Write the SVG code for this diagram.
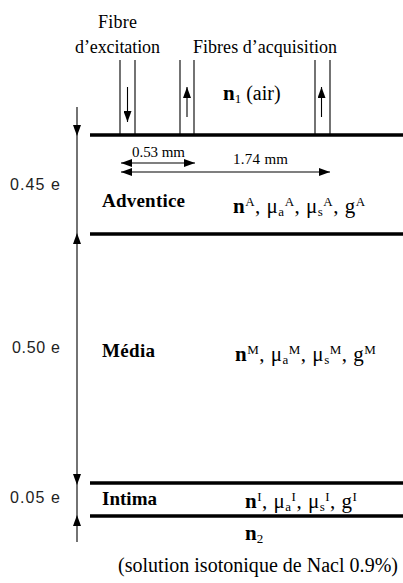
<svg xmlns="http://www.w3.org/2000/svg" width="403" height="583" viewBox="0 0 403 583">
<style>
.serif{font-family:"Liberation Serif","Times New Roman",serif;fill:#000}
.sans{font-family:"Liberation Sans",Arial,sans-serif;fill:#222;font-size:16px}
.thick{stroke:#000;stroke-width:3.3;fill:none}
.thin{stroke:#000;stroke-width:1.1;fill:none}
.title{font-size:18px}
.layer{font-size:19px;font-weight:bold}
.par{font-size:21px;letter-spacing:0.5px}
.nb{font-weight:bold;font-size:21px}
.sup{font-size:13px}
.dim{font-size:15px}
</style>
<defs>
<marker id="ah" viewBox="0 0 11 8" refX="11" refY="4" markerWidth="11" markerHeight="8" markerUnits="userSpaceOnUse" orient="auto-start-reverse">
<path d="M0,0 L11,4 L0,8 z" fill="#000"/>
</marker>
</defs>
<rect width="403" height="583" fill="#fff"/>

<g id="layers">
<line class="thick" x1="90" y1="135" x2="403" y2="135"/>
<line class="thick" x1="90" y1="234" x2="403" y2="234"/>
<line class="thick" x1="90" y1="483" x2="403" y2="483"/>
<line class="thick" x1="90" y1="516" x2="403" y2="516"/>
</g>

<g id="fibre-excitation">
<line class="thin" x1="120" y1="60" x2="120" y2="135"/>
<line class="thin" x1="135" y1="60" x2="135" y2="135"/>
<text class="serif title" x="98" y="28" textLength="39" lengthAdjust="spacing">Fibre</text>
<text class="serif title" x="75" y="53" textLength="85" lengthAdjust="spacing">d’excitation</text>
</g>

<g id="fibres-acquisition">
<line class="thin" x1="180" y1="60" x2="180" y2="135"/>
<line class="thin" x1="194" y1="60" x2="194" y2="135"/>
<line class="thin" x1="315" y1="60" x2="315" y2="135"/>
<line class="thin" x1="330" y1="60" x2="330" y2="135"/>
<text class="serif title" x="193" y="53" textLength="144" lengthAdjust="spacing">Fibres d’acquisition</text>
</g>

<g id="air">
<text class="serif" x="223" y="100" font-size="20"><tspan class="nb">n</tspan><tspan class="sup" dy="3">1</tspan><tspan dy="-3"> (air)</tspan></text>
</g>

<g id="adventice">
<text class="serif layer" x="102" y="207" textLength="83" lengthAdjust="spacing">Adventice</text>
<text class="serif par" x="233" y="213"><tspan class="nb">n</tspan><tspan class="sup" dy="-7">A</tspan><tspan dy="7">, μ</tspan><tspan class="sup" dy="3">a</tspan><tspan class="sup" dy="-10">A</tspan><tspan dy="7">, μ</tspan><tspan class="sup" dy="3">s</tspan><tspan class="sup" dy="-10">A</tspan><tspan dy="7">, g</tspan><tspan class="sup" dy="-7">A</tspan></text>
<text class="sans" x="10" y="190" textLength="50" lengthAdjust="spacing">0.45 e</text>
</g>

<g id="media">
<text class="serif layer" x="102" y="357" textLength="53" lengthAdjust="spacing">Média</text>
<text class="serif par" x="235" y="361"><tspan class="nb">n</tspan><tspan class="sup" dy="-7">M</tspan><tspan dy="7">, μ</tspan><tspan class="sup" dy="3">a</tspan><tspan class="sup" dy="-10">M</tspan><tspan dy="7">, μ</tspan><tspan class="sup" dy="3">s</tspan><tspan class="sup" dy="-10">M</tspan><tspan dy="7">, g</tspan><tspan class="sup" dy="-7">M</tspan></text>
<text class="sans" x="12" y="353" textLength="48" lengthAdjust="spacing">0.50 e</text>
</g>

<g id="intima">
<text class="serif layer" x="102" y="505" textLength="55" lengthAdjust="spacing">Intima</text>
<text class="serif par" x="245" y="508"><tspan class="nb">n</tspan><tspan class="sup" dy="-7">I</tspan><tspan dy="7">, μ</tspan><tspan class="sup" dy="3">a</tspan><tspan class="sup" dy="-10">I</tspan><tspan dy="7">, μ</tspan><tspan class="sup" dy="3">s</tspan><tspan class="sup" dy="-10">I</tspan><tspan dy="7">, g</tspan><tspan class="sup" dy="-7">I</tspan></text>
<text class="sans" x="10" y="503" textLength="50" lengthAdjust="spacing">0.05 e</text>
</g>

<g id="saline">
<text class="serif" x="245" y="540" font-size="20"><tspan class="nb">n</tspan><tspan class="sup" dy="3">2</tspan></text>
<text class="serif" x="118" y="572" font-size="20" textLength="280" lengthAdjust="spacing">(solution isotonique de Nacl 0.9%)</text>
</g>

<g id="connectors">
<line class="thin" x1="127.5" y1="87" x2="127.5" y2="122" marker-end="url(#ah)"/>
<line class="thin" x1="187" y1="117" x2="187" y2="87" marker-end="url(#ah)"/>
<line class="thin" x1="321.5" y1="117" x2="321.5" y2="87" marker-end="url(#ah)"/>
<line class="thin" x1="77" y1="107" x2="77" y2="136" marker-end="url(#ah)"/>
<line class="thin" x1="77" y1="136" x2="77" y2="233"/>
<line class="thin" x1="77" y1="233" x2="77" y2="485" marker-start="url(#ah)" marker-end="url(#ah)"/>
<line class="thin" x1="77" y1="485" x2="77" y2="515"/>
<line class="thin" x1="77" y1="542" x2="77" y2="515" marker-end="url(#ah)"/>
<line class="thin" x1="121" y1="163" x2="195" y2="163" marker-start="url(#ah)" marker-end="url(#ah)"/>
<line class="thin" x1="121" y1="172" x2="330" y2="172" marker-start="url(#ah)" marker-end="url(#ah)"/>
<text class="serif dim" x="132" y="157" textLength="53" lengthAdjust="spacing">0.53 mm</text>
<text class="serif dim" x="233" y="164" textLength="55" lengthAdjust="spacing">1.74 mm</text>
</g>
</svg>
